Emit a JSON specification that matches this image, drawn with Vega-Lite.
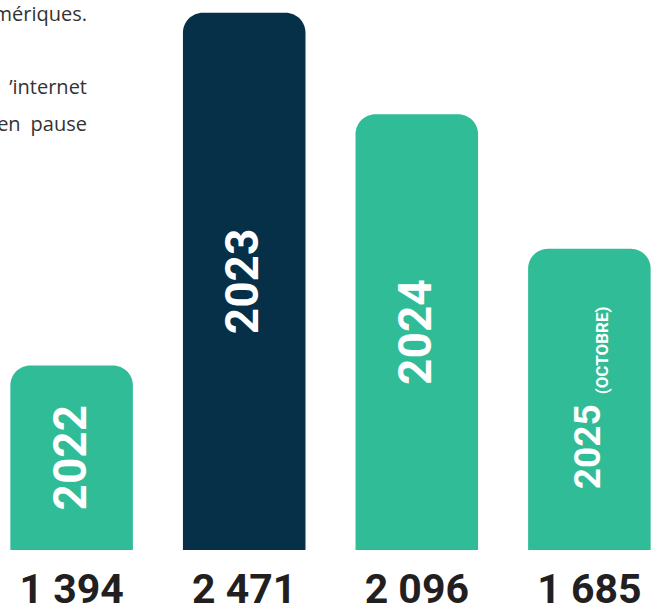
{
  "$schema": "https://vega.github.io/schema/vega-lite/v6.json",
  "width": 661,
  "height": 550,
  "autosize": "none",
  "padding": {"left": 0, "top": 0, "right": 0, "bottom": 62},
  "background": "white",
  "config": {
    "view": {"stroke": null},
    "locale": {"number": {"decimal": ",", "thousands": " ", "grouping": [3], "currency": ["", " €"]}}
  },
  "title": {
    "text": "mériques.",
    "subtitle": ["’internet", "en\u2002pause"],
    "anchor": "start",
    "frame": "group",
    "align": "right",
    "baseline": "top",
    "offset": -135,
    "dx": 87,
    "font": "Open Sans",
    "fontSize": 20,
    "fontWeight": "normal",
    "color": "#333333",
    "subtitleFont": "Open Sans",
    "subtitleFontSize": 20,
    "subtitleFontWeight": "normal",
    "subtitleColor": "#333333",
    "subtitleLineHeight": 37.5,
    "subtitlePadding": 53
  },
  "data": {
    "values": [
      {"year": "2022", "value": 1394, "sub": null, "highlight": false},
      {"year": "2023", "value": 2471, "sub": null, "highlight": true},
      {"year": "2024", "value": 2096, "sub": null, "highlight": false},
      {"year": "2025", "value": 1685, "sub": "(OCTOBRE)", "highlight": false}
    ]
  },
  "transform": [{"calculate": "sqrt(datum.value * 1033)", "as": "mid"}],
  "encoding": {
    "x": {
      "field": "year",
      "type": "nominal",
      "sort": null,
      "axis": null,
      "scale": {"paddingInner": 0.29, "paddingOuter": 0.06}
    }
  },
  "layer": [
    {
      "mark": {"type": "bar", "cornerRadiusTopLeft": 20, "cornerRadiusTopRight": 20},
      "encoding": {
        "y": {"field": "value", "type": "quantitative", "axis": null, "scale": {"type": "log", "domain": [1033, 2523], "nice": false}},
        "y2": {"datum": 1033},
        "color": {
          "field": "highlight",
          "type": "nominal",
          "legend": null,
          "scale": {"domain": [false, true], "range": ["#30bc96", "#062f48"]}
        }
      }
    },
    {
      "transform": [{"filter": "datum.sub == null"}],
      "mark": {"type": "text", "angle": 270, "align": "center", "baseline": "middle", "color": "white", "font": "Roboto", "fontWeight": "bold", "fontSize": 46},
      "encoding": {
        "y": {"field": "mid", "type": "quantitative", "scale": {"type": "log", "domain": [1033, 2523], "nice": false}},
        "text": {"field": "year"}
      }
    },
    {
      "transform": [{"filter": "datum.sub != null"}],
      "mark": {"type": "text", "angle": 270, "align": "right", "baseline": "alphabetic", "dx": -5, "dy": 11, "color": "white", "font": "Roboto", "fontWeight": "bold", "fontSize": 37},
      "encoding": {
        "y": {"field": "mid", "type": "quantitative", "scale": {"type": "log", "domain": [1033, 2523], "nice": false}},
        "text": {"field": "year"}
      }
    },
    {
      "transform": [{"filter": "datum.sub != null"}],
      "mark": {"type": "text", "angle": 270, "align": "left", "baseline": "alphabetic", "dx": 5, "dy": 19, "color": "white", "font": "Roboto", "fontWeight": "bold", "fontSize": 17},
      "encoding": {
        "y": {"field": "mid", "type": "quantitative", "scale": {"type": "log", "domain": [1033, 2523], "nice": false}},
        "text": {"field": "sub"}
      }
    },
    {
      "mark": {"type": "text", "align": "center", "baseline": "bottom", "dy": 62, "color": "#231f20", "font": "Roboto", "fontWeight": "bold", "fontSize": 41},
      "encoding": {
        "y": {"datum": 1033, "type": "quantitative", "scale": {"type": "log", "domain": [1033, 2523], "nice": false}},
        "text": {"field": "value", "type": "quantitative", "format": ",d"}
      }
    }
  ]
}
